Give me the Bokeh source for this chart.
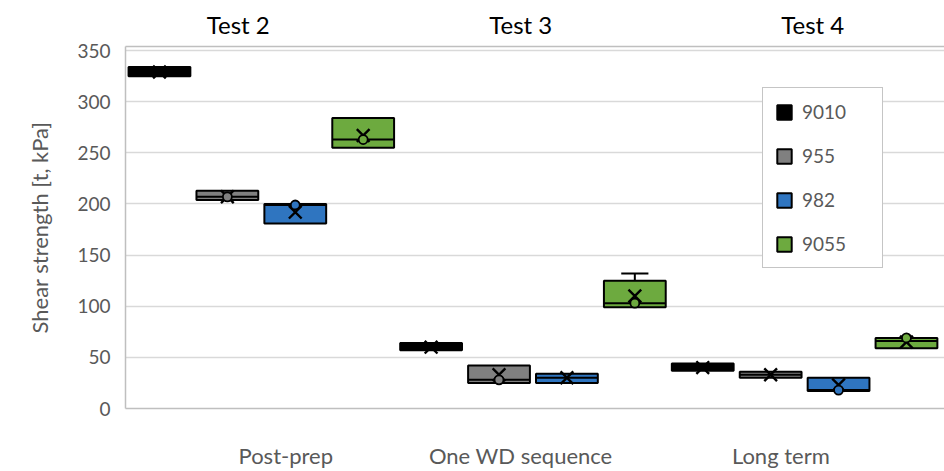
from bokeh.plotting import figure
from bokeh.models import Range1d, FixedTicker, LinearAxis, Legend, LegendItem, ColumnDataSource
from bokeh.embed import file_html
from bokeh.resources import INLINE

# ---------------- data ----------------
categories = ["Post-prep", "One WD sequence", "Long term"]
tests = ["Test 2", "Test 3", "Test 4"]
series = ["9010", "955", "982", "9055"]
colors = ["#000000", "#808080", "#2F75C0", "#6DAA3F"]

# values per series, one entry per group (Post-prep, One WD sequence, Long term)
q1 = {"9010": [325, 57, 37], "955": [204, 25, 30], "982": [181, 25, 17], "9055": [255, 99, 59]}
q3 = {"9010": [334, 64, 44], "955": [213, 42, 36], "982": [200, 34, 30], "9055": [284, 125, 69]}
median = {"9010": [330, 60, 40], "955": [207, 28, 33], "982": [199, 30, 18], "9055": [263, 103, 66]}
mean = {"9010": [329, 60, 40], "955": [207, 33, 33], "982": [192, 30, 23], "9055": [267, 110, 65]}
whisker_hi = {"9010": [334, 64, 44], "955": [213, 42, 36], "982": [200, 34, 30], "9055": [284, 132, 69]}
whisker_lo = {"9010": [325, 57, 37], "955": [204, 25, 30], "982": [181, 25, 17], "9055": [255, 99, 59]}
points = {"9010": [None, None, None], "955": [207, 28, None], "982": [199, None, 18], "9055": [263, 103, 69]}

y_ticks = [0, 50, 100, 150, 200, 250, 300, 350]

# ---------------- layout constants ----------------
n_series = len(series)
box_w = 0.91
cat_label_pos = [2.36, 5.82, 9.65]
test_label_pos = [1.66, 5.82, 10.12]
FONT = "Lato"
GRAY_TXT = "#595959"

p = figure(width=944, height=471, output_backend="svg", toolbar_location=None,
           x_range=Range1d(0, n_series * len(categories) + 0.06), y_range=Range1d(0, 354),
           min_border_left=125, min_border_right=0, min_border_top=46, min_border_bottom=63)
p.outline_line_color = None
p.background_fill_color = "white"
p.border_fill_color = "white"

# axes
p.xaxis.ticker = FixedTicker(ticks=cat_label_pos)
p.xaxis.major_label_overrides = {pos: lab for pos, lab in zip(cat_label_pos, categories)}
p.xaxis.major_tick_line_color = None
p.xaxis.major_tick_out = 0
p.xaxis.major_tick_in = 0
p.xaxis.minor_tick_line_color = None
p.xaxis.axis_line_color = "#BFBFBF"
p.xaxis.axis_line_width = 1.5
p.xaxis.major_label_standoff = 33
p.xaxis.major_label_text_font = FONT
p.xaxis.major_label_text_font_size = "22px"
p.xaxis.major_label_text_color = GRAY_TXT

p.yaxis.ticker = FixedTicker(ticks=y_ticks)
p.yaxis.major_tick_line_color = None
p.yaxis.major_tick_out = 0
p.yaxis.major_tick_in = 0
p.yaxis.minor_tick_line_color = None
p.yaxis.axis_line_color = "#BFBFBF"
p.yaxis.axis_line_width = 1.5
p.yaxis.major_label_standoff = 15
p.yaxis.major_label_text_font = FONT
p.yaxis.major_label_text_font_size = "19px"
p.yaxis.major_label_text_color = GRAY_TXT
p.yaxis.axis_label = "Shear strength [t, kPa]"
p.yaxis.axis_label_text_font = FONT
p.yaxis.axis_label_text_font_size = "22px"
p.yaxis.axis_label_text_font_style = "normal"
p.yaxis.axis_label_text_color = GRAY_TXT
p.yaxis.axis_label_standoff = 21

top_axis = LinearAxis(ticker=FixedTicker(ticks=test_label_pos),
                      major_label_overrides={pos: lab for pos, lab in zip(test_label_pos, tests)})
top_axis.axis_line_color = "#BFBFBF"
top_axis.axis_line_width = 1.5
top_axis.major_tick_line_color = None
top_axis.major_tick_out = 0
top_axis.major_tick_in = 0
top_axis.minor_tick_line_color = None
top_axis.major_label_standoff = 8
top_axis.major_label_text_font = FONT
top_axis.major_label_text_font_size = "24px"
top_axis.major_label_text_color = "#000000"
p.add_layout(top_axis, "above")

p.xgrid.grid_line_color = None
p.ygrid.grid_line_color = "#D9D9D9"
p.ygrid.grid_line_width = 1.5
p.ygrid.ticker = FixedTicker(ticks=y_ticks)

legend_items = []
for si, s in enumerate(series):
    xs = [g * n_series + si + 0.5 for g in range(len(categories))]
    col = colors[si]
    # whiskers (only where they extend beyond the box)
    wx, wy0, wy1 = [], [], []
    for g, x in enumerate(xs):
        if whisker_hi[s][g] > q3[s][g]:
            wx.append(x); wy0.append(q3[s][g]); wy1.append(whisker_hi[s][g])
        if whisker_lo[s][g] < q1[s][g]:
            wx.append(x); wy0.append(q1[s][g]); wy1.append(whisker_lo[s][g])
    if wx:
        p.segment(x0=wx, x1=wx, y0=wy0, y1=wy1, line_color="black", line_width=2)
        p.segment(x0=[x - 0.2 for x in wx], x1=[x + 0.2 for x in wx], y0=wy1, y1=wy1,
                  line_color="black", line_width=2)
    src = ColumnDataSource(dict(x=xs, top=q3[s], bottom=q1[s], med=median[s], mean=mean[s],
                                xl=[x - box_w / 2 for x in xs], xr=[x + box_w / 2 for x in xs]))
    r = p.vbar(x="x", top="top", bottom="bottom", width=box_w, source=src,
               fill_color=col, line_color="black", line_width=2)
    p.segment(x0="xl", x1="xr", y0="med", y1="med", source=src, line_color="black", line_width=2)
    p.scatter(x="x", y="mean", source=src, marker="x", size=18, line_color="black", line_width=2.4)
    px = [x for x, v in zip(xs, points[s]) if v is not None]
    py = [v for v in points[s] if v is not None]
    if px:
        p.scatter(x=px, y=py, marker="circle", size=9, fill_color=col, line_color="black", line_width=1.8)
    legend_items.append(LegendItem(label=s, renderers=[r]))

legend = Legend(items=legend_items, location=(637, 140), orientation="vertical")
legend.glyph_width = 18
legend.glyph_height = 18
legend.label_height = 18
legend.label_width = 68
legend.label_standoff = 9
legend.spacing = 21
legend.padding = 12
legend.margin = 0
legend.label_text_font = FONT
legend.label_text_font_size = "19px"
legend.label_text_color = GRAY_TXT
legend.border_line_color = "#8C8C8C"
legend.border_line_width = 1.5
legend.background_fill_color = "white"
legend.background_fill_alpha = 1.0
p.add_layout(legend, "center")

open("out.html", "w").write(file_html(p, INLINE))
